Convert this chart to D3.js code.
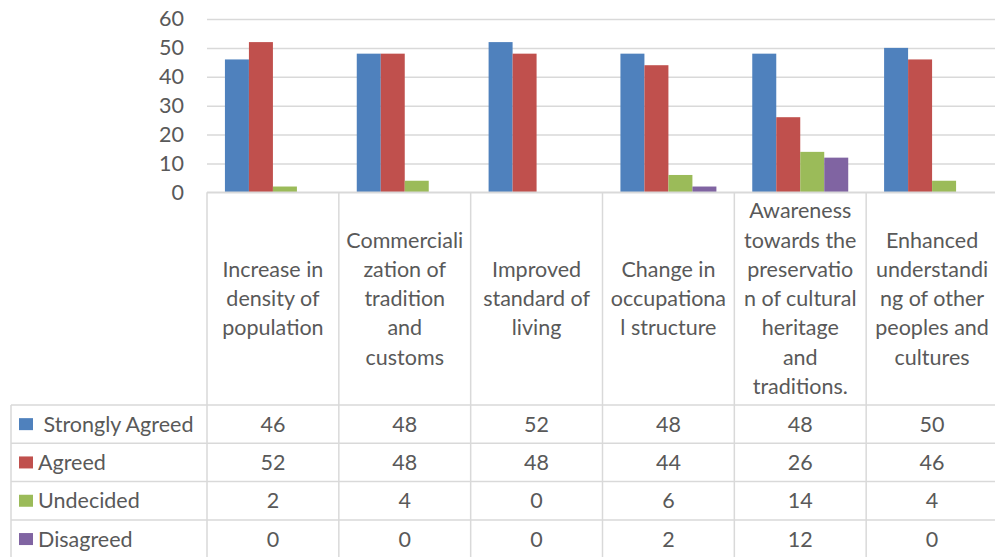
<!DOCTYPE html>
<html>
<head>
<meta charset="utf-8">
<script src="https://cdn.jsdelivr.net/npm/d3@7/dist/d3.min.js"></script>
<style>
  html, body { margin: 0; padding: 0; background: #fff; }
  svg { display: block; }
  text { font-family: Lato, "Open Sans", sans-serif; fill: #595959; }
</style>
</head>
<body>
<svg id="chart" width="995" height="557"></svg>
<script>
// Category labels, already broken into the lines shown in the table header cells
const categoryLines = [
  ["Increase in", "density of", "population"],
  ["Commerciali", "zation of", "tradition", "and", "customs"],
  ["Improved", "standard of", "living"],
  ["Change in", "occupationa", "l structure"],
  ["Awareness", "towards the", "preservatio", "n of cultural", "heritage", "and", "traditions."],
  ["Enhanced", "understandi", "ng of other", "peoples and", "cultures"]
];
const categories = categoryLines.map(l => l.join(" "));

const seriesNames = [" Strongly Agreed", "Agreed", "Undecided", "Disagreed"];
const stronglyAgreed = [46, 48, 52, 48, 48, 50];
const agreed         = [52, 48, 48, 44, 26, 46];
const undecided      = [2, 4, 0, 6, 14, 4];
const disagreed      = [0, 0, 0, 2, 12, 0];
const seriesColors = ["#4f81bd", "#c0504d", "#9bbb59", "#8064a2"];
const yTicks = [0, 10, 20, 30, 40, 50, 60];

const seriesValues = [stronglyAgreed, agreed, undecided, disagreed];

const svg = d3.select("#chart");
const gridColor = "#d9d9d9";
const fontSize = 21.5;

// layout
const plotLeft = 207, plotRight = 998;
const plotTop = 19, plotBottom = 192.3;
const tableLeft = 11;
const headerBottom = 405;
const rowH = 38.3;

const x = d3.scaleBand().domain(categories).range([plotLeft, plotRight]).paddingInner(0).paddingOuter(0);
const xs = d3.scaleBand().domain(d3.range(seriesNames.length))
  .range([x.bandwidth() * 0.136, x.bandwidth() * 0.864]);
const y = d3.scaleLinear().domain([0, 60]).range([plotBottom, plotTop]);

// horizontal gridlines + y tick labels
const yAxis = d3.axisLeft(y).tickValues(yTicks).tickSize(-(plotRight - plotLeft)).tickPadding(23);
const ga = svg.append("g").attr("transform", `translate(${plotLeft},0)`).call(yAxis);
ga.select(".domain").remove();
ga.selectAll(".tick line").attr("stroke", gridColor).attr("stroke-width", 1.5);
ga.selectAll(".tick text").attr("font-size", fontSize).attr("fill", "#595959")
  .style("font-family", "Lato, 'Open Sans', sans-serif");

// bars
const groups = svg.append("g").selectAll("g").data(categories).join("g")
  .attr("transform", d => `translate(${x(d)},0)`);
groups.selectAll("rect")
  .data((d, i) => seriesValues.map((vals, s) => ({ s, v: vals[i] })))
  .join("rect")
  .attr("x", d => xs(d.s))
  .attr("width", xs.bandwidth())
  .attr("y", d => y(d.v))
  .attr("height", d => y(0) - y(d.v))
  .attr("fill", d => seriesColors[d.s]);

// table grid
const lines = svg.append("g").attr("stroke", gridColor).attr("stroke-width", 1.5).attr("fill", "none");
// axis baseline
lines.append("line").attr("x1", plotLeft).attr("x2", plotRight).attr("y1", y(0)).attr("y2", y(0));
// vertical category separators
const boundaries = categories.map(c => x(c)).concat([plotRight]);
boundaries.forEach(bx => {
  lines.append("line").attr("x1", bx).attr("x2", bx).attr("y1", y(0)).attr("y2", 570);
});
lines.append("line").attr("x1", tableLeft).attr("x2", tableLeft).attr("y1", headerBottom).attr("y2", 570);
// row lines
d3.range(seriesNames.length + 1).forEach(r => {
  const yy = headerBottom + r * rowH;
  lines.append("line").attr("x1", tableLeft).attr("x2", plotRight).attr("y1", yy).attr("y2", yy);
});

// category header text
const lineH = 29.3;
const headerMid = (y(0) + headerBottom) / 2;
categoryLines.forEach((ls, i) => {
  const cx = x(categories[i]) + x.bandwidth() / 2;
  const t = svg.append("text").attr("text-anchor", "middle").attr("font-size", fontSize);
  ls.forEach((ln, j) => {
    t.append("tspan").attr("x", cx)
      .attr("y", headerMid + (j - (ls.length - 1) / 2) * lineH)
      .attr("dy", "0.35em").text(ln);
  });
});

// legend rows with values
seriesNames.forEach((name, s) => {
  const cy = headerBottom + s * rowH + rowH / 2;
  svg.append("rect").attr("x", 19).attr("y", cy - 6).attr("width", 14).attr("height", 12)
    .attr("fill", seriesColors[s]);
  svg.append("text").attr("x", 38).attr("y", cy).attr("dy", "0.35em")
    .attr("font-size", fontSize).attr("xml:space", "preserve").style("white-space", "pre").text(name);
  seriesValues[s].forEach((v, i) => {
    svg.append("text").attr("x", x(categories[i]) + x.bandwidth() / 2).attr("y", cy)
      .attr("dy", "0.35em").attr("text-anchor", "middle").attr("font-size", fontSize).text(v);
  });
});
</script>
</body>
</html>
